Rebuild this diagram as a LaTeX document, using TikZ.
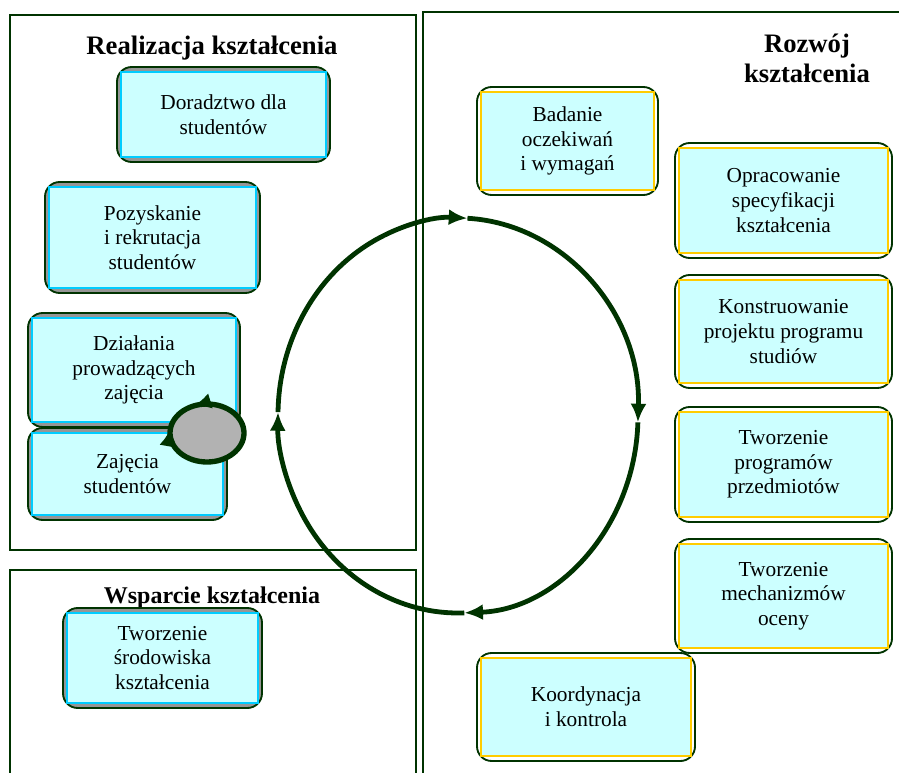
\documentclass[tikz,border=0pt]{standalone}
\usepackage{fontspec}
\setmainfont{Liberation Serif}
\usetikzlibrary{arrows.meta}

\definecolor{frameGreen}{RGB}{0,51,0}
\definecolor{boxCyan}{RGB}{204,255,255}
\definecolor{edgeCyan}{RGB}{0,204,255}
\definecolor{edgeYellow}{RGB}{255,204,0}
\definecolor{shadeGray}{RGB}{150,150,150}
\definecolor{blobGray}{RGB}{178,178,178}

\tikzset{every picture/.style={line width=0.75pt}}
\tikzset{
	frame/.style={draw=frameGreen, line width=1.1pt},
	title/.style={font=\fontsize{20}{23}\selectfont\bfseries, align=center, inner sep=0pt},
	plate/.style={draw=frameGreen, line width=1.4pt, rounded corners=11pt, inner sep=0pt},
	leftplate/.style={plate, fill=shadeGray},
	rightplate/.style={plate, fill=white},
	card/.style={fill=boxCyan, line width=1.6pt, inner sep=0pt, align=center, font=\fontsize{16}{18.5}\selectfont},
	leftcard/.style={card, draw=edgeCyan},
	rightcard/.style={card, draw=edgeYellow},
	loopline/.style={draw=frameGreen, line width=3.6pt, -{Latex[length=14pt,width=12pt]}},
	blobline/.style={draw=frameGreen, line width=4pt}}

\begin{document}
\begin{tikzpicture}[x=0.75pt,y=0.75pt,yscale=-1,xscale=1]
	\useasboundingbox (0,0) rectangle (899,773);
	\clip (0,0) rectangle (899,773);

	%Shape: Rectangle [Realizacja]
	\draw[frame] (10,15) rectangle (416,550);
	%Shape: Rectangle [Rozwoj]
	\draw[frame] (910,12) -- (423,12) -- (423,790);
	%Shape: Rectangle [Wsparcie]
	\draw[frame] (10,790) -- (10,570) -- (416,570) -- (416,790);

	% Text Node
	\node[title, anchor=base] (realTitle) at (212,55) {Realizacja kształcenia};
	% Text Node
	\node[title, anchor=base] (devTitle) at (807,83) {Rozwój\\kształcenia};
	% Text Node
	\node[title, font=\fontsize{18}{21}\selectfont\bfseries, anchor=base] (supTitle) at (212,603) {Wsparcie kształcenia};

	%Shape: Rounded Rect [left column]
	\node[leftplate, minimum width=159.75pt, minimum height=71.25pt] (doradztwoPlate) at (223.5,114.5) {};
	\node[leftcard, minimum width=153.75pt, minimum height=63.75pt] (doradztwo) at (223.5,114.5) {Doradztwo dla\\studentów};

	\node[leftplate, minimum width=161.25pt, minimum height=83.25pt] (rekrutacjaPlate) at (152.5,237.5) {};
	\node[leftcard, minimum width=155.25pt, minimum height=75.75pt] (rekrutacja) at (152.5,237.5) {Pozyskanie\\ i rekrutacja\\studentów};

	\node[leftplate, minimum width=159pt, minimum height=85.5pt] (prowadzacyPlate) at (134,370) {};
	\node[leftcard, minimum width=153pt, minimum height=78pt] (prowadzacy) at (134,370) {Działania\\prowadzących\\zajęcia};

	\node[leftplate, minimum width=149.25pt, minimum height=69pt] (studenciPlate) at (127.5,474) {};
	\node[leftcard, minimum width=143.25pt, minimum height=61.5pt] (studenci) at (127.5,474) {Zajęcia\\studentów};

	\node[leftplate, minimum width=149.25pt, minimum height=75pt] (srodowiskoPlate) at (162.5,658) {};
	\node[leftcard, minimum width=143.25pt, minimum height=67.5pt] (srodowisko) at (162.5,658) {Tworzenie\\środowiska\\kształcenia};

	%Shape: Rounded Rect [right column]
	\node[rightplate, minimum width=135.75pt, minimum height=81pt] (badaniePlate) at (567.5,141) {};
	\node[rightcard, minimum width=129.75pt, minimum height=73.5pt] (badanie) at (567.5,141) {Badanie\\oczekiwań\\i wymagań};

	\node[rightplate, minimum width=162.75pt, minimum height=86.25pt] (specyfikacjaPlate) at (783.5,200.5) {};
	\node[rightcard, minimum width=156.75pt, minimum height=78.75pt] (specyfikacja) at (783.5,200.5) {Opracowanie\\specyfikacji\\kształcenia};

	\node[rightplate, minimum width=162.75pt, minimum height=84.75pt] (projektPlate) at (783.5,331.5) {};
	\node[rightcard, minimum width=156.75pt, minimum height=77.25pt] (projekt) at (783.5,331.5) {Konstruowanie\\projektu programu\\studiów};

	\node[rightplate, minimum width=162.75pt, minimum height=86.25pt] (przedmiotyPlate) at (783.5,464.5) {};
	\node[rightcard, minimum width=156.75pt, minimum height=78.75pt] (przedmioty) at (783.5,464.5) {Tworzenie\\programów\\przedmiotów};

	\node[rightplate, minimum width=162.75pt, minimum height=85.5pt] (ocenaPlate) at (783.5,596) {};
	\node[rightcard, minimum width=156.75pt, minimum height=78pt] (ocena) at (783.5,596) {Tworzenie\\mechanizmów\\oceny};

	\node[rightplate, minimum width=163.5pt, minimum height=81pt] (kontrolaPlate) at (586,707) {};
	\node[rightcard, minimum width=157.5pt, minimum height=73.5pt] (kontrola) at (586,707) {Koordynacja\\i kontrola};

	%Curve Lines [big cycle]
	\coordinate (bigC) at (458,415.5);
	\foreach \a/\b in {181/273,273/362,362/448,448/541}
		\draw[loopline] ([shift={(\a:180 and 197.5)}]bigC) arc[start angle=\a, end angle=\b, x radius=180, y radius=197.5];

	%Shape: Ellipse [small cycle]
	\coordinate (smallC) at (207,433);
	\draw[blobline, fill=blobGray] (smallC) ellipse [x radius=37, y radius=29];
	\draw[blobline, -{Latex[length=13pt,width=12pt]}] ([shift={(275:37 and 29)}]smallC) arc[start angle=275, end angle=249, x radius=37, y radius=29];
	\draw[blobline, -{Latex[length=13pt,width=12pt]}] ([shift={(160:37 and 29)}]smallC) arc[start angle=160, end angle=188, x radius=37, y radius=29];

\end{tikzpicture}
\end{document}
